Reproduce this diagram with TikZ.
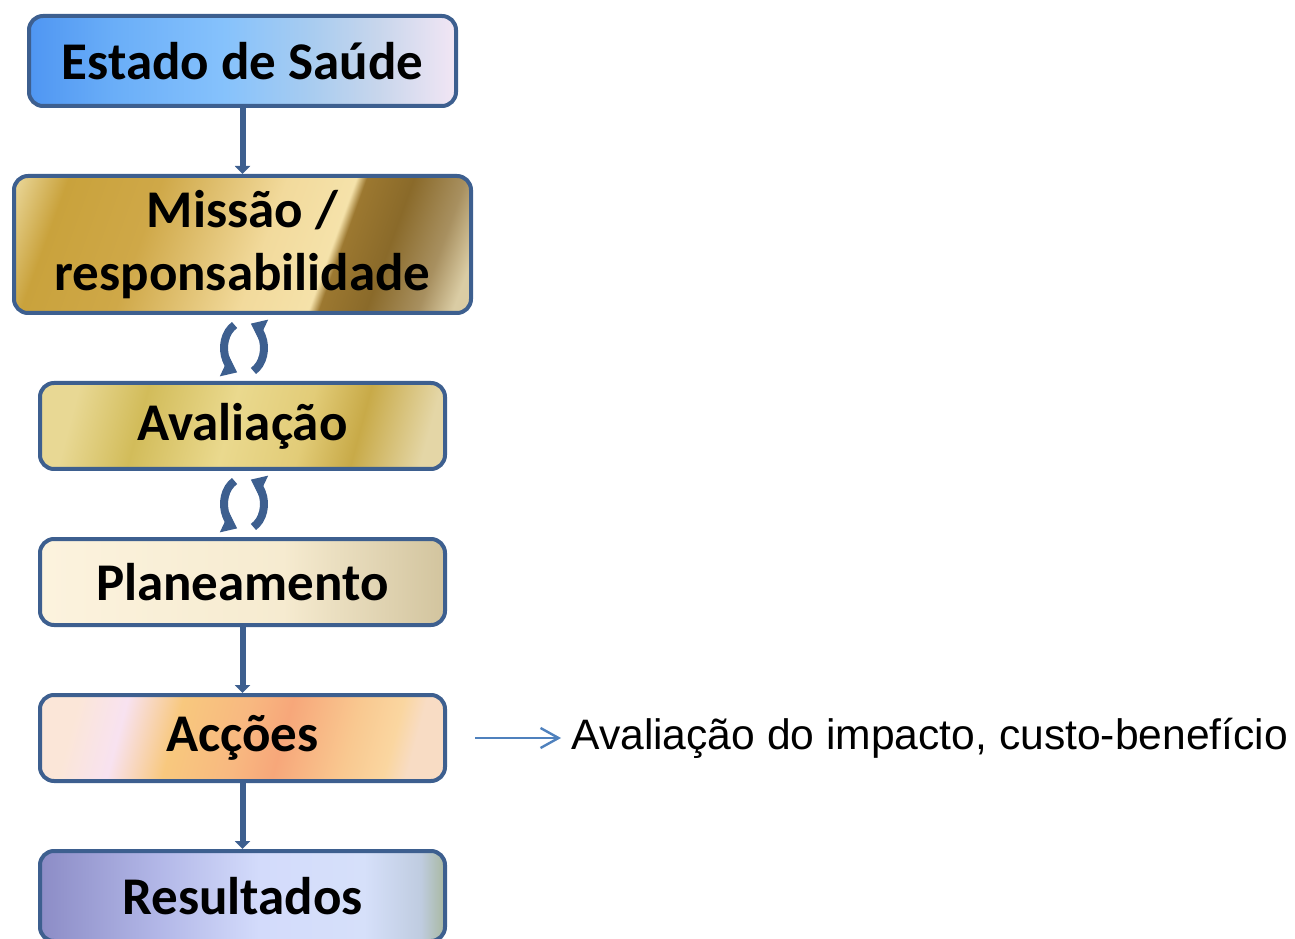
\documentclass[tikz,border=0pt]{standalone}
\usepackage{fontspec}
\setmainfont{Carlito}
\newfontfamily\arialfont{Liberation Sans}
\usetikzlibrary{arrows.meta,calc}
\definecolor{bordo}{HTML}{3D5F8F}
\definecolor{setaazul}{HTML}{4F81BD}
%% Cores dos gradientes
\definecolor{e1}{HTML}{4F96F2}\definecolor{e2}{HTML}{6AAEF8}\definecolor{e3}{HTML}{86C2FC}
\definecolor{e4}{HTML}{A8CCF0}\definecolor{e5}{HTML}{C8D6EC}\definecolor{e6}{HTML}{F2E6F4}
\definecolor{m1}{HTML}{E8D494}\definecolor{m2}{HTML}{C9A23C}\definecolor{m3}{HTML}{CFA848}
\definecolor{m4}{HTML}{F2DA9C}\definecolor{m5}{HTML}{F5E2AA}\definecolor{m6}{HTML}{9C7830}
\definecolor{m7}{HTML}{8A6A2A}\definecolor{m8}{HTML}{A89060}\definecolor{m9}{HTML}{DACCA4}
\definecolor{a1}{HTML}{E8D894}\definecolor{a2}{HTML}{D2BC5A}\definecolor{a3}{HTML}{EAD98E}
\definecolor{a4}{HTML}{E2CC78}\definecolor{a5}{HTML}{C8AA48}\definecolor{a6}{HTML}{E4D6A6}
\definecolor{p1}{HTML}{FCF3DE}\definecolor{p2}{HTML}{F6EBD0}\definecolor{p3}{HTML}{D2C49E}
\definecolor{o1}{HTML}{FBE6D8}\definecolor{o2}{HTML}{F8E2F0}\definecolor{o3}{HTML}{F8C87E}
\definecolor{o4}{HTML}{F8B880}\definecolor{o5}{HTML}{F7A77A}\definecolor{o6}{HTML}{F9C890}
\definecolor{o7}{HTML}{FAD6A0}\definecolor{o8}{HTML}{F8DCC4}
\definecolor{r1}{HTML}{8C8CC6}\definecolor{r2}{HTML}{B3B8E8}\definecolor{r3}{HTML}{D3DBFB}
\definecolor{r4}{HTML}{D6E0FA}\definecolor{r5}{HTML}{BFCCE0}\definecolor{r6}{HTML}{A8B8A0}
%% Gradientes das caixas
\pgfdeclarehorizontalshading{estadoSh}{100bp}{
  color(0bp)=(e1); color(25bp)=(e1); color(35bp)=(e2); color(48bp)=(e3);
  color(58bp)=(e4); color(66bp)=(e5); color(75bp)=(e6); color(100bp)=(e6)}
\pgfdeclarehorizontalshading{missaoSh}{100bp}{
  color(0bp)=(m1); color(18.5bp)=(m1); color(24.9bp)=(m2); color(36.8bp)=(m3);
  color(52.7bp)=(m4); color(61.4bp)=(m5); color(62.7bp)=(m6); color(68.7bp)=(m7);
  color(75.3bp)=(m8); color(79.7bp)=(m9); color(100bp)=(m9)}
\pgfdeclarehorizontalshading{avaliacaoSh}{100bp}{
  color(0bp)=(a1); color(25bp)=(a1); color(35bp)=(a2); color(48bp)=(a3);
  color(59bp)=(a4); color(67bp)=(a5); color(77bp)=(a6); color(100bp)=(a6)}
\pgfdeclarehorizontalshading{planeamentoSh}{100bp}{
  color(0bp)=(p1); color(25bp)=(p1); color(55bp)=(p2); color(75bp)=(p3); color(100bp)=(p3)}
\pgfdeclarehorizontalshading{accoesSh}{100bp}{
  color(0bp)=(o1); color(25bp)=(o1); color(32bp)=(o2); color(40bp)=(o3);
  color(49.7bp)=(o4); color(55.8bp)=(o5); color(65.6bp)=(o6); color(71.7bp)=(o7);
  color(75bp)=(o8); color(100bp)=(o8)}
\pgfdeclarehorizontalshading{resultadosSh}{100bp}{
  color(0bp)=(r1); color(25bp)=(r1); color(40bp)=(r2); color(52bp)=(r3);
  color(65bp)=(r4); color(72bp)=(r5); color(75bp)=(r6); color(100bp)=(r6)}
\begin{document}
\begin{tikzpicture}[x=.5pt, y=.5pt, line join=round,
    caixa/.style={draw=bordo, line width=2pt, rounded corners=7pt, align=center,
      inner sep=0pt, font=\bfseries\fontsize{26.5}{31.5}\selectfont},
    estreita/.style={caixa, minimum width=202.5pt, minimum height=43pt},
    liga/.style={bordo, line width=3pt, -{Triangle[width=7.5pt,length=4pt]}},
    ciclo/.style={bordo, line width=4pt, -{Triangle[width=10.5pt,length=7pt]}},
    nota/.style={anchor=west, inner xsep=5pt, inner ysep=0pt,
      font=\arialfont\fontsize{21.3}{25}\selectfont},
    notaseta/.style={setaazul, line width=1.2pt, -{Straight Barb[length=9pt,width=10pt]}}]
  \useasboundingbox (0,0) rectangle (1295,938);
  %% Caixas
  \node[caixa, shading=estadoSh, minimum width=213.5pt, minimum height=45pt]
    (estado) at (242.5,877) {Estado de Saúde};
  \node[caixa, shading=missaoSh, shading angle=-20, minimum width=228.5pt, minimum height=68.5pt]
    (missao) at (242.5,693.5) {Missão /\\responsabilidade};
  \node[estreita, shading=avaliacaoSh, shading angle=-15] (avaliacao) at (242.5,512) {Avaliação};
  \node[estreita, shading=planeamentoSh] (planeamento) at (242.5,356) {Planeamento};
  \node[estreita, shading=accoesSh, shading angle=-15] (accoes) at (242.5,200) {Acções};
  \node[estreita, shading=resultadosSh, minimum height=45pt] (resultados) at (242.5,42) {Resultados};
  \node[nota] (nota) at ($(accoes.east)+(114,0)$) {Avaliação do impacto, custo-benefício};
  %% Setas
  \draw[liga] (estado) -- (missao);
  \draw[liga] (planeamento) -- (accoes);
  \draw[liga] (accoes) -- (resultados);
  \coordinate (inicio) at ($(accoes.east)+(28,0)$);
  \draw[notaseta] (inicio) -- (nota.west);
  %% Ciclos entre as caixas
  \coordinate (c1) at ($(missao.south)!.5!(avaliacao.north)+(1.5,0)$);
  \coordinate (c2) at ($(avaliacao.south)!.5!(planeamento.north)+(1.5,0)$);
  \foreach \c in {c1,c2} {
    \draw[ciclo] ($(\c)+(118:20 and 26)$) arc[start angle=118, end angle=250, x radius=20, y radius=26];
    \draw[ciclo] ($(\c)+(-62:20 and 26)$) arc[start angle=-62, end angle=70, x radius=20, y radius=26];
  }
\end{tikzpicture}
\end{document}
